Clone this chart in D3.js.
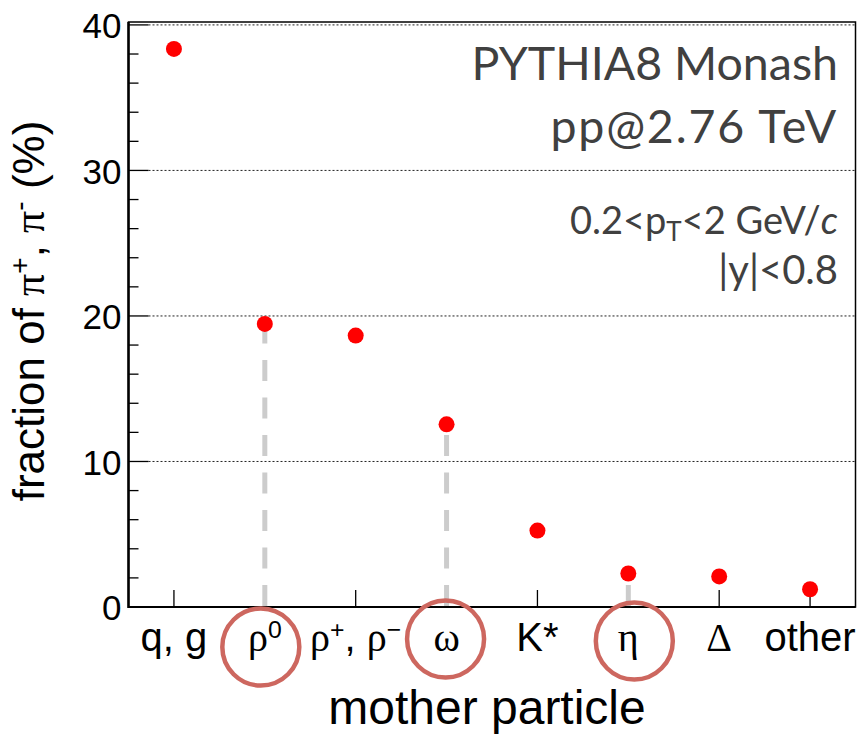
<!DOCTYPE html>
<html>
<head>
<meta charset="utf-8">
<script src="https://cdn.jsdelivr.net/npm/d3@7"></script>
<style>
  body { margin: 0; background: #fff; }
</style>
</head>
<body>
<div id="chart"></div>
<script>
// mother particle categories (labels use ^{..} for superscripts)
let categories = ["q, g", "ρ^{0}", "ρ^{+}, ρ^{−}", "ω", "K*", "η", "Δ", "other"]
// fraction of pi+, pi- coming from each mother (%)
let fractions = [38.35, 19.45, 18.65, 12.55, 5.25, 2.3, 2.1, 1.22]
// categories marked with a circle and a dashed drop line
let highlighted = ["ρ^{0}", "ω", "η"]
let yMajorTicks = [0, 10, 20, 30, 40]
let yMinorTicks = d3.range(0, 41, 2)
let infoLines = ["PYTHIA8 Monash", "pp@2.76 TeV"]

const W = 866, H = 736
const plotLeft = 128.5, plotRight = 855.5, plotTop = 22, plotBottom = 607

let svg = d3.select("#chart")
    .append("svg")
    .attr("width", W)
    .attr("height", H)
    .style("font-family", "'Liberation Sans', Arial, sans-serif")

let x = d3.scaleBand()
    .domain(categories)
    .range([plotLeft, plotRight])

let y = d3.scaleLinear()
    .domain([0, 40.2])
    .range([plotBottom, plotTop])

function xc(c) { return x(c) + x.bandwidth() / 2 }

// dotted grid lines
svg.append("g")
    .selectAll("line")
    .data(yMajorTicks.filter(d => d > 0))
    .enter()
    .append("line")
    .attr("x1", plotLeft + 20)
    .attr("x2", plotRight)
    .attr("y1", d => y(d))
    .attr("y2", d => y(d))
    .style("stroke", "#222")
    .style("stroke-width", 1)
    .style("stroke-dasharray", "2,2")

// y ticks (inside the frame)
svg.append("g")
    .selectAll("line")
    .data(yMinorTicks)
    .enter()
    .append("line")
    .attr("x1", plotLeft)
    .attr("x2", d => plotLeft + (d % 10 == 0 ? 20 : 10))
    .attr("y1", d => y(d))
    .attr("y2", d => y(d))
    .style("stroke", "#000")
    .style("stroke-width", 1.3)

// x ticks
svg.append("g")
    .selectAll("line")
    .data(categories)
    .enter()
    .append("line")
    .attr("x1", d => xc(d))
    .attr("x2", d => xc(d))
    .attr("y1", plotBottom)
    .attr("y2", plotBottom - 17)
    .style("stroke", "#000")
    .style("stroke-width", 1.3)

// frame
svg.append("rect")
    .attr("x", plotLeft)
    .attr("y", plotTop)
    .attr("width", plotRight - plotLeft)
    .attr("height", plotBottom - plotTop)
    .style("fill", "none")
    .style("stroke", "#000")
    .style("stroke-width", 1.5)
svg.append("line")
    .attr("x1", plotLeft).attr("x2", plotLeft)
    .attr("y1", plotTop).attr("y2", plotBottom + 1)
    .style("stroke", "#000").style("stroke-width", 2.5)
svg.append("line")
    .attr("x1", plotLeft).attr("x2", plotRight)
    .attr("y1", plotBottom).attr("y2", plotBottom)
    .style("stroke", "#000").style("stroke-width", 2.2)

// y tick labels
svg.append("g")
    .selectAll("text")
    .data(yMajorTicks)
    .enter()
    .append("text")
    .attr("x", plotLeft - 7)
    .attr("y", d => y(d))
    .attr("dy", "0.38em")
    .attr("text-anchor", "end")
    .style("font-size", "35px")
    .text(d => d)

let data = categories.map((c, i) => ({ cat: c, value: fractions[i] }))

// dashed grey drop lines for the highlighted mothers
svg.append("g")
    .selectAll("line")
    .data(data.filter(d => highlighted.includes(d.cat)))
    .enter()
    .append("line")
    .attr("x1", d => xc(d.cat))
    .attr("x2", d => xc(d.cat))
    .attr("y1", y(0) - 1)
    .attr("y2", d => y(d.value))
    .style("stroke", "#cccccc")
    .style("stroke-width", 5)
    .style("stroke-dasharray", "21,16.5")

// points
svg.append("g")
    .selectAll("circle")
    .data(data)
    .enter()
    .append("circle")
    .attr("cx", d => xc(d.cat))
    .attr("cy", d => y(d.value))
    .attr("r", 8)
    .style("fill", "#ff0000")

// category labels, greek letters in a serif face, ^{..} as superscript
function addRichText(sel, str, size) {
    let parts = str.split(/(\^\{[^}]*\})/).filter(p => p.length)
    parts.forEach(p => {
        if (p.startsWith("^{")) {
            sel.append("tspan")
                .attr("baseline-shift", "super")
                .style("font-size", (size * 0.62) + "px")
                .text(p.slice(2, -1))
        } else {
            p.split(/([α-ωΑ-Ω])/).filter(q => q.length).forEach(q => {
                let t = sel.append("tspan").text(q)
                if (/[α-ωΑ-Ω]/.test(q)) {
                    t.style("font-family", "'Liberation Serif', 'DejaVu Serif', serif")
                }
            })
        }
    })
}

svg.append("g")
    .selectAll("text")
    .data(categories)
    .enter()
    .append("text")
    .attr("x", d => xc(d))
    .attr("y", 651)
    .attr("text-anchor", "middle")
    .style("font-size", "40px")
    .each(function (d) { addRichText(d3.select(this), d, 40) })

// red annotation circles around the highlighted labels
let ringShift = { "ρ^{0}": [-4, 6], "ω": [-1, -2], "η": [6, 0] }
svg.append("g")
    .selectAll("circle")
    .data(highlighted)
    .enter()
    .append("circle")
    .attr("cx", d => xc(d) + ringShift[d][0])
    .attr("cy", d => 641 + ringShift[d][1])
    .attr("r", 38.5)
    .style("fill", "none")
    .style("stroke", "#cd675f")
    .style("stroke-width", 4.5)

// axis titles
svg.append("text")
    .attr("x", 487)
    .attr("y", 724)
    .attr("text-anchor", "middle")
    .style("font-size", "48px")
    .text("mother particle")

let yt = svg.append("text")
    .attr("transform", "translate(44,311) rotate(-90)")
    .attr("text-anchor", "middle")
    .style("font-size", "44px")
yt.append("tspan").text("fraction of ")
yt.append("tspan").text("π").style("font-family", "'Liberation Serif', serif")
yt.append("tspan").text("+").attr("baseline-shift", "super").style("font-size", "28px")
yt.append("tspan").text(", ")
yt.append("tspan").text("π").style("font-family", "'Liberation Serif', serif")
yt.append("tspan").text("-").attr("baseline-shift", "super").style("font-size", "28px")
yt.append("tspan").text(" (%)")

// info text, top right
let info = svg.append("g")
    .style("font-family", "Lato, 'Open Sans', sans-serif")
    .style("fill", "#404040")

info.selectAll("text")
    .data(infoLines)
    .enter()
    .append("text")
    .attr("x", 838)
    .attr("y", (d, i) => 80 + i * 63)
    .attr("text-anchor", "end")
    .style("font-size", "46.5px")
    .style("letter-spacing", (d, i) => i == 1 ? "1.8px" : "0px")
    .text(d => d)

let cut = info.append("text")
    .attr("x", 838)
    .attr("y", 234)
    .attr("text-anchor", "end")
    .style("font-size", "38px")
cut.append("tspan").text("0.2<p")
cut.append("tspan").text("T").attr("baseline-shift", "-28%").style("font-size", "26px")
cut.append("tspan").text("<2 GeV/")
cut.append("tspan").text("c").style("font-style", "italic")

info.append("text")
    .attr("x", 838)
    .attr("y", 284)
    .attr("text-anchor", "end")
    .style("font-size", "40px")
    .text("|y|<0.8")
</script>
</body>
</html>
